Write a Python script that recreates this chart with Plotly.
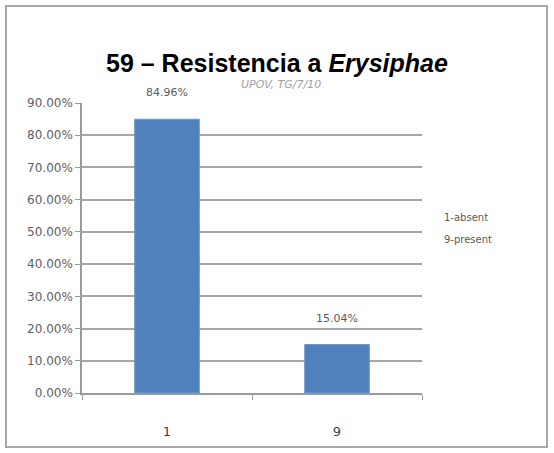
import plotly.graph_objects as go

categories = ["1", "9"]
values = [0.8496, 0.1504]
value_labels = ["84.96%", "15.04%"]
legend_lines = ["1-absent", "9-present"]
title_text = "59 – Resistencia a <i>Erysiphae</i>"
subtitle_text = "<i>UPOV, TG/7/10</i>"

W, H = 554, 453
L, R, T, B = 82, 132, 103, 60
pw, ph = W - L - R, H - T - B

def px(x):
    return (x - L) / pw

def py(y):
    return (H - B - y) / ph

fig = go.Figure()
fig.add_trace(go.Bar(
    x=categories, y=values, width=0.38,
    marker=dict(color="#4F81BD", line=dict(color="#6f97c9", width=1)),
    hoverinfo="skip",
))

grey = "#5a5a5a"
for i, (v, t) in enumerate(zip(values, value_labels)):
    fig.add_annotation(x=i, y=v, text=t, showarrow=False, yanchor="bottom",
                       yshift=18, font=dict(family="DejaVu Sans", size=11, color=grey))

fig.add_annotation(xref="paper", yref="paper", x=px(277), y=py(63), text=title_text,
                   showarrow=False, xanchor="center", yanchor="middle",
                   font=dict(family="Liberation Sans", size=25, color="#000000", weight="bold"))
fig.add_annotation(xref="paper", yref="paper", x=px(281), y=py(84), text=subtitle_text,
                   showarrow=False, xanchor="center", yanchor="middle",
                   font=dict(family="DejaVu Sans", size=11, color="#a0a0a0"))
for line, ypix in zip(legend_lines, [217, 240]):
    fig.add_annotation(xref="paper", yref="paper", x=px(442), y=py(ypix), text=line,
                       showarrow=False, xanchor="left", yanchor="middle",
                       font=dict(family="DejaVu Sans", size=10, color=grey))

fig.add_shape(type="rect", xref="paper", yref="paper",
              x0=px(6), x1=px(547), y0=py(447), y1=py(6),
              line=dict(color="#a8a8a8", width=2), layer="below")

fig.update_layout(
    width=W, height=H,
    margin=dict(l=L, r=R, t=T, b=B),
    paper_bgcolor="white", plot_bgcolor="white",
    showlegend=False,
    xaxis=dict(
        type="category", categoryorder="array", categoryarray=categories,
        range=[-0.5, len(categories) - 0.5],
        showline=True, linecolor="#9a9a9a", linewidth=1.5,
        ticks="outside", tickson="boundaries", ticklen=5, tickcolor="#9a9a9a",
        tickfont=dict(family="DejaVu Sans", size=13, color="#404040"),
        ticklabelstandoff=26, showgrid=False,
    ),
    yaxis=dict(
        range=[0, 0.9], dtick=0.1, tickformat=".2%",
        showline=True, linecolor="#9a9a9a", linewidth=1.5,
        ticks="outside", ticklen=5, tickcolor="#9a9a9a",
        showgrid=True, gridcolor="#a6a6a6", gridwidth=1.5,
        tickfont=dict(family="DejaVu Sans", size=12, color="#606060"),
        zeroline=False,
    ),
)

fig.write_html("out.html", config={"displayModeBar": False},
               post_script="document.body.style.margin='0';document.body.style.overflow='hidden';")
